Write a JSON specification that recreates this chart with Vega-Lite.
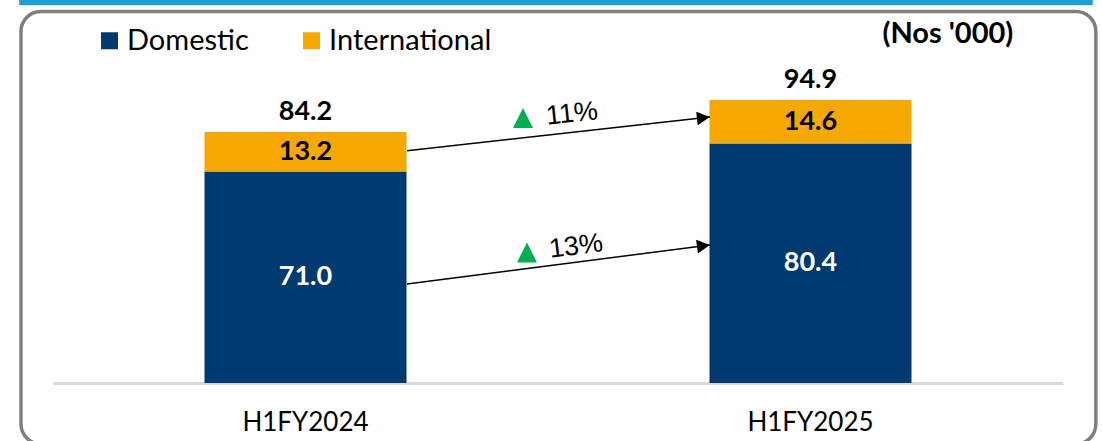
{
  "$schema": "https://vega.github.io/schema/vega-lite/v6.json",
  "width": 1010,
  "height": 298,
  "autosize": {"type": "none"},
  "padding": {"left": 53, "top": 85, "right": 39, "bottom": 58},
  "background": "white",
  "config": {"view": {"stroke": null}, "font": "Lato"},
  "datasets": {
    "bars": [
      {"period": "H1FY2024", "type": "Domestic", "value": 71.0},
      {"period": "H1FY2024", "type": "International", "value": 13.2},
      {"period": "H1FY2025", "type": "Domestic", "value": 80.4},
      {"period": "H1FY2025", "type": "International", "value": 14.6}
    ],
    "totals": [
      {"period": "H1FY2024", "total": 84.2},
      {"period": "H1FY2025", "total": 94.9}
    ],
    "frame": [
      {"part": "band", "x0": -0.067, "x1": 2.059, "y0": 126.8, "y1": 128.6},
      {"part": "border", "x0": -0.0634, "x1": 2.065, "y0": -20.5, "y1": 124.7}
    ],
    "arrows": [
      {"type": "International", "pct": "11%", "x0": 0.701, "y0": 77.95, "x1": 1.301, "y1": 89.26, "hx": 1.288, "hy": 89.0, "tx": 0.9307, "ty": 88.93, "px": 1.0277, "py": 90.27},
      {"type": "Domestic", "pct": "13%", "x0": 0.701, "y0": 33.22, "x1": 1.301, "y1": 46.31, "hx": 1.288, "hy": 46.04, "tx": 0.9386, "ty": 43.79, "px": 1.0356, "py": 45.8}
    ],
    "unit": [
      {"label": "(Nos '000)", "x": 1.772, "y": 117.1}
    ]
  },
  "layer": [
    {
      "data": {"name": "frame"},
      "transform": [{"filter": "datum.part === 'band'"}],
      "mark": {"type": "rect", "color": "#209ed3"},
      "encoding": {
        "x": {"field": "x0", "type": "quantitative", "scale": {"domain": [0, 2], "nice": false, "zero": false}, "axis": null},
        "x2": {"field": "x1"},
        "y": {"field": "y0", "type": "quantitative", "scale": {"domain": [0, 100], "nice": false}, "axis": null},
        "y2": {"field": "y1"}
      }
    },
    {
      "data": {"name": "frame"},
      "transform": [{"filter": "datum.part === 'border'"}],
      "mark": {"type": "rect", "fill": "white", "fillOpacity": 0, "stroke": "#7f7f7f", "strokeWidth": 3.5, "cornerRadius": 20},
      "encoding": {
        "x": {"field": "x0", "type": "quantitative", "scale": {"domain": [0, 2], "nice": false, "zero": false}, "axis": null},
        "x2": {"field": "x1"},
        "y": {"field": "y0", "type": "quantitative", "scale": {"domain": [0, 100], "nice": false}, "axis": null},
        "y2": {"field": "y1"}
      }
    },
    {
      "data": {"name": "bars"},
      "mark": {"type": "bar"},
      "encoding": {
        "x": {
          "field": "period", "type": "nominal",
          "scale": {"paddingInner": 0.6, "paddingOuter": 0.3},
          "axis": {"title": null, "labelAngle": 0, "labelFont": "Lato", "labelFontSize": 26, "labelColor": "black", "domainColor": "#d9d9d9", "domainWidth": 3, "ticks": false, "labelPadding": 26}
        },
        "y": {"field": "value", "type": "quantitative", "stack": "zero", "scale": {"domain": [0, 100], "nice": false}, "axis": null},
        "color": {
          "field": "type", "type": "nominal",
          "scale": {"domain": ["Domestic", "International"], "range": ["#003a70", "#f5a800"]},
          "legend": {"orient": "none", "legendX": 42, "legendY": -59, "direction": "horizontal", "title": null, "symbolType": "square", "symbolSize": 289, "symbolStrokeWidth": 0, "symbolOpacity": 1, "labelFont": "Lato", "labelFontSize": 29, "labelColor": "black", "labelOffset": 3, "labelLimit": 400, "columnPadding": 48}
        },
        "order": {"field": "type"}
      }
    },
    {
      "data": {"name": "bars"},
      "transform": [
        {"stack": "value", "groupby": ["period"], "sort": [{"field": "type"}], "as": ["v0", "v1"]},
        {"fold": ["v0", "v1"], "as": ["edgeKey", "edge"]},
        {"aggregate": [{"op": "mean", "field": "edge", "as": "mid"}, {"op": "max", "field": "value", "as": "val"}], "groupby": ["period", "type"]}
      ],
      "mark": {"type": "text", "font": "Lato", "fontSize": 27, "fontWeight": "bold", "baseline": "middle"},
      "encoding": {
        "x": {"field": "period", "type": "nominal", "scale": {"paddingInner": 0.6, "paddingOuter": 0.3}, "axis": null},
        "y": {"field": "mid", "type": "quantitative", "scale": {"domain": [0, 100], "nice": false}},
        "text": {"field": "val", "type": "quantitative", "format": ".1f"},
        "color": {"condition": {"test": "datum.type === 'Domestic'", "value": "white"}, "value": "black"}
      }
    },
    {
      "data": {"name": "totals"},
      "mark": {"type": "text", "font": "Lato", "fontSize": 27, "fontWeight": "bold", "baseline": "middle", "dy": -20, "color": "black"},
      "encoding": {
        "x": {"field": "period", "type": "nominal", "scale": {"paddingInner": 0.6, "paddingOuter": 0.3}, "axis": null},
        "y": {"field": "total", "type": "quantitative", "scale": {"domain": [0, 100], "nice": false}},
        "text": {"field": "total", "type": "quantitative", "format": ".1f"}
      }
    },
    {
      "data": {"name": "arrows"},
      "mark": {"type": "rule", "color": "black", "strokeWidth": 1.5},
      "encoding": {
        "x": {"field": "x0", "type": "quantitative", "scale": {"domain": [0, 2], "nice": false, "zero": false}, "axis": null},
        "x2": {"field": "x1"},
        "y": {"field": "y0", "type": "quantitative", "scale": {"domain": [0, 100], "nice": false}},
        "y2": {"field": "y1"}
      }
    },
    {
      "data": {"name": "arrows"},
      "transform": [{"filter": "datum.type === 'International'"}],
      "mark": {"type": "point", "shape": "M1,0L-1,-1.05L-1,1.05Z", "size": 169, "filled": true, "color": "black", "opacity": 1, "angle": 353.65},
      "encoding": {
        "x": {"field": "hx", "type": "quantitative", "scale": {"domain": [0, 2], "nice": false, "zero": false}, "axis": null},
        "y": {"field": "hy", "type": "quantitative", "scale": {"domain": [0, 100], "nice": false}}
      }
    },
    {
      "data": {"name": "arrows"},
      "transform": [{"filter": "datum.type === 'Domestic'"}],
      "mark": {"type": "point", "shape": "M1,0L-1,-1.05L-1,1.05Z", "size": 169, "filled": true, "color": "black", "opacity": 1, "angle": 352.67},
      "encoding": {
        "x": {"field": "hx", "type": "quantitative", "scale": {"domain": [0, 2], "nice": false, "zero": false}, "axis": null},
        "y": {"field": "hy", "type": "quantitative", "scale": {"domain": [0, 100], "nice": false}}
      }
    },
    {
      "data": {"name": "arrows"},
      "mark": {"type": "point", "shape": "M0,-1L1,1L-1,1Z", "size": 400, "filled": true, "color": "#00b050", "opacity": 1},
      "encoding": {
        "x": {"field": "tx", "type": "quantitative", "scale": {"domain": [0, 2], "nice": false, "zero": false}, "axis": null},
        "y": {"field": "ty", "type": "quantitative", "scale": {"domain": [0, 100], "nice": false}}
      }
    },
    {
      "data": {"name": "arrows"},
      "transform": [{"filter": "datum.type === 'International'"}],
      "mark": {"type": "text", "font": "Liberation Sans", "fontSize": 27, "color": "black", "baseline": "middle", "align": "center", "angle": 354},
      "encoding": {
        "x": {"field": "px", "type": "quantitative", "scale": {"domain": [0, 2], "nice": false, "zero": false}, "axis": null},
        "y": {"field": "py", "type": "quantitative", "scale": {"domain": [0, 100], "nice": false}},
        "text": {"field": "pct", "type": "nominal"}
      }
    },
    {
      "data": {"name": "arrows"},
      "transform": [{"filter": "datum.type === 'Domestic'"}],
      "mark": {"type": "text", "font": "Liberation Sans", "fontSize": 27, "color": "black", "baseline": "middle", "align": "center", "angle": 353},
      "encoding": {
        "x": {"field": "px", "type": "quantitative", "scale": {"domain": [0, 2], "nice": false, "zero": false}, "axis": null},
        "y": {"field": "py", "type": "quantitative", "scale": {"domain": [0, 100], "nice": false}},
        "text": {"field": "pct", "type": "nominal"}
      }
    },
    {
      "data": {"name": "unit"},
      "mark": {"type": "text", "font": "Lato", "fontSize": 29, "fontWeight": "bold", "color": "black", "baseline": "middle", "align": "center"},
      "encoding": {
        "x": {"field": "x", "type": "quantitative", "scale": {"domain": [0, 2], "nice": false, "zero": false}, "axis": null},
        "y": {"field": "y", "type": "quantitative", "scale": {"domain": [0, 100], "nice": false}},
        "text": {"field": "label", "type": "nominal"}
      }
    }
  ],
  "resolve": {"scale": {"x": "independent"}, "axis": {"x": "independent"}}
}
